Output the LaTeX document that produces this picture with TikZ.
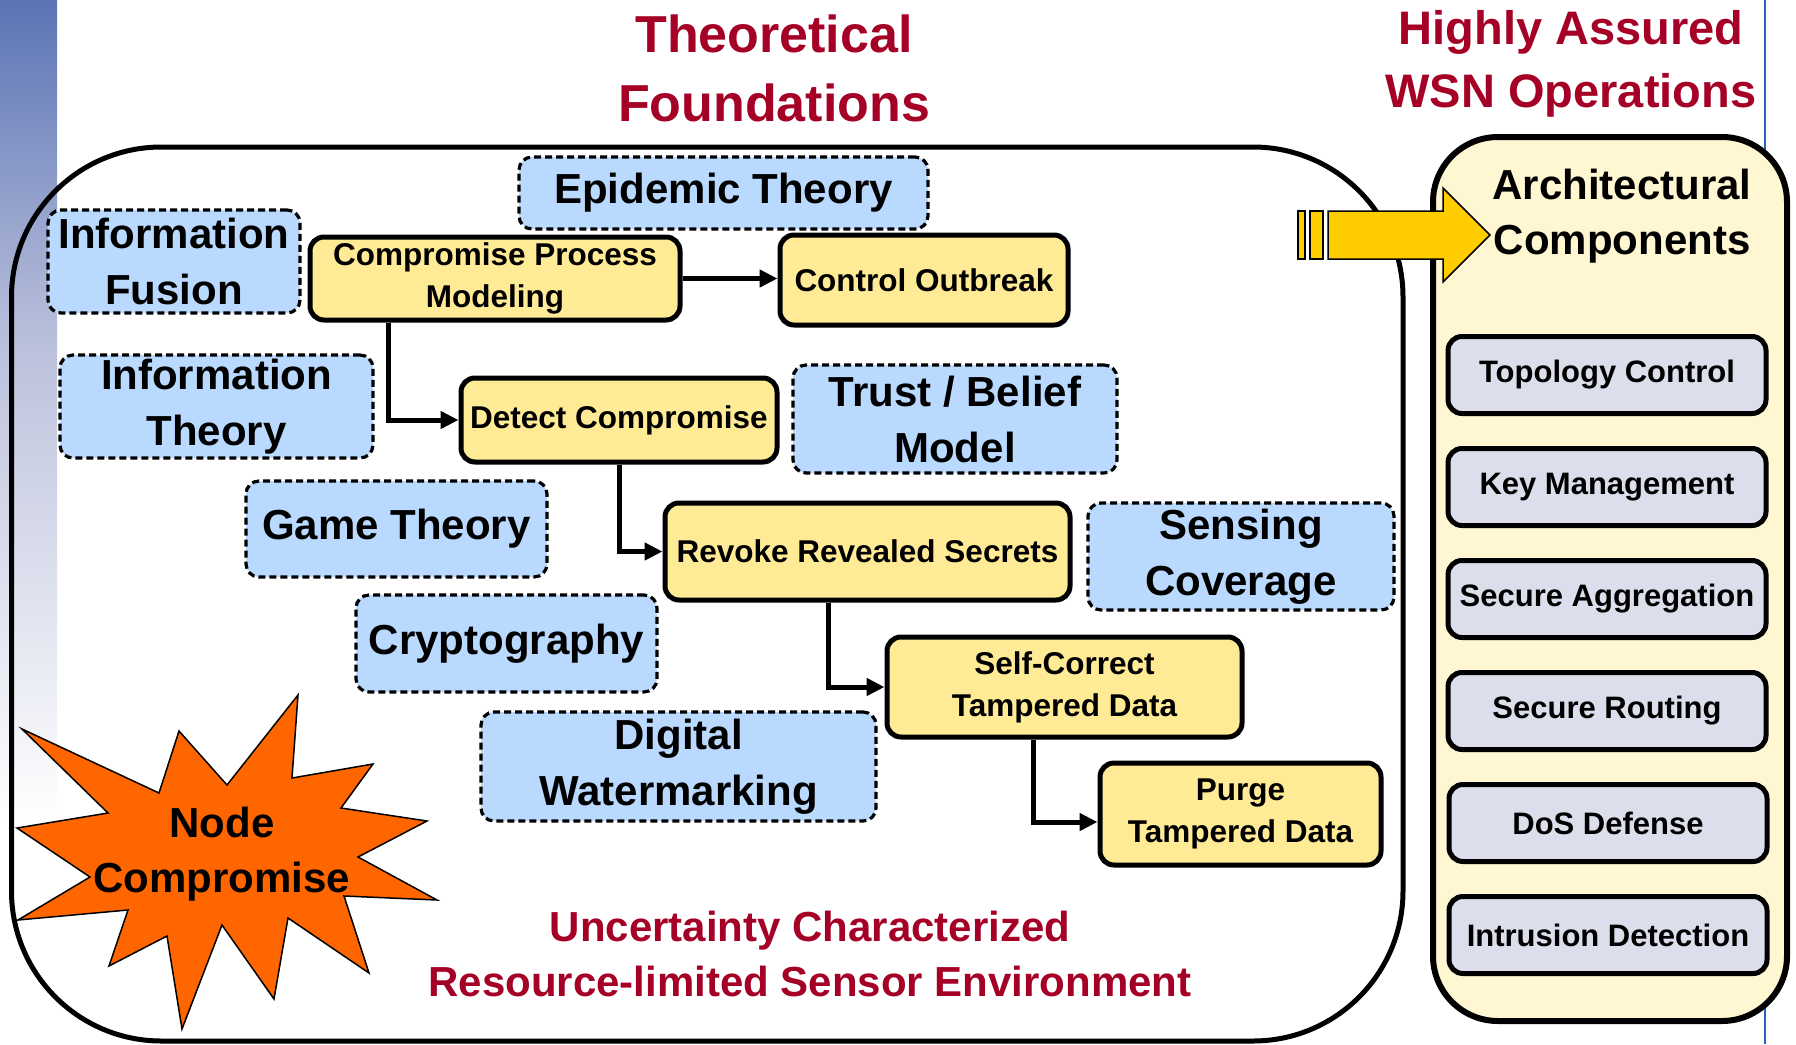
\documentclass[tikz,border=0pt]{standalone}
\usepackage{fontspec}
\setmainfont{Liberation Sans}
\usetikzlibrary{arrows.meta,calc}

\definecolor{titlered}{HTML}{A50026}
\definecolor{theoryblue}{HTML}{B9D9FE}
\definecolor{procyellow}{HTML}{FFEA96}
\definecolor{archcream}{HTML}{FFF6D2}
\definecolor{complav}{HTML}{DCDEEC}
\definecolor{burst}{HTML}{FF6600}
\definecolor{arrowgold}{HTML}{FFCC00}
\definecolor{stripblue}{HTML}{5B74B5}
\definecolor{stripmid}{HTML}{BCC2DC}
\definecolor{ruleblue}{HTML}{2A62C0}

\begin{document}
\begin{tikzpicture}[x=1pt,y=-1pt,
  theory/.style={draw=black, line width=3.2pt, dash pattern=on 7pt off 4pt,
    fill=theoryblue, rounded corners=13pt, align=center, inner sep=0pt,
    font=\fontsize{42}{56}\selectfont\bfseries},
  process/.style={draw=black, line width=5pt, fill=procyellow,
    rounded corners=14pt, align=center, inner sep=0pt,
    font=\fontsize{31.5}{42}\selectfont\bfseries},
  component/.style={draw=black, line width=5pt, fill=complav,
    rounded corners=14pt, inner sep=0pt, minimum width=318pt,
    minimum height=77pt, font=\fontsize{31}{38}\selectfont\bfseries},
  flow/.style={line width=5pt, -{Triangle[length=18pt,width=17pt]}},
  heading/.style={text=titlered, align=center, inner sep=0pt},
]
\useasboundingbox (0,0) rectangle (1796,1044);

% fading strip along the left edge
\shade[top color=stripblue, bottom color=stripmid] (0,0) rectangle (57,350);
\shade[top color=stripmid, bottom color=white] (0,350) rectangle (57,820);

% thin rule on the right
\draw[ruleblue, line width=2pt] (1765,0) -- (1765,1044);

% headings
\node[heading, font=\fontsize{52}{69}\selectfont\bfseries] (theo) at (774,68.5)
  {Theoretical\\Foundations};
\node[heading, font=\fontsize{47}{63}\selectfont\bfseries] (wsn) at (1571,63.5)
  {Highly Assured\\WSN Operations};

% environment frame
\draw[line width=5pt, rounded corners=150pt] (11.5,147) rectangle (1403,1041);

% theoretical foundations
\node[theory, minimum width=252pt, minimum height=103pt] (fusion) at (174,261.5) {Information\\Fusion};
\node[theory, minimum width=313pt, minimum height=103pt] (infoth) at (216.5,406.5) {Information\\Theory};
\node[theory, minimum width=409pt, minimum height=72pt] (epid) at (723.5,193) {Epidemic Theory};
\node[theory, minimum width=324pt, minimum height=108pt] (trust) at (955,419) {Trust / Belief\\Model};
\node[theory, minimum width=301pt, minimum height=96pt] (game) at (396.5,529) {Game Theory};
\node[theory, minimum width=301pt, minimum height=97pt] (crypto) at (506.5,643.5) {Cryptography};
\node[theory, minimum width=306pt, minimum height=107pt] (sensing) at (1241,556.5) {Sensing\\Coverage};
\node[theory, minimum width=395pt, minimum height=109pt] (water) at (678.5,766.5) {Digital\\Watermarking};

% process chain
\node[process, minimum width=370pt, minimum height=83pt] (cpm) at (495,278.5) {Compromise Process\\Modeling};
\node[process, minimum width=288pt, minimum height=90pt] (outbreak) at (924,280) {Control Outbreak};
\node[process, minimum width=316pt, minimum height=84pt] (detect) at (619,420) {Detect Compromise};
\node[process, minimum width=405pt, minimum height=97pt] (revoke) at (867.5,551.5) {Revoke Revealed Secrets};
\node[process, minimum width=355pt, minimum height=100pt] (selfcorr) at (1064.5,687) {Self-Correct\\Tampered Data};
\node[process, minimum width=281pt, minimum height=102pt] (purge) at (1240.5,814) {Purge\\Tampered Data};

\coordinate (drop1) at (388,0);
\coordinate (drop3) at (828,0);
\coordinate (drop4) at (1033,0);

\draw[flow] (cpm.east) -- (cpm.east -| outbreak.west);
\draw[flow] (cpm.south -| drop1) |- (detect.west);
\draw[flow] (detect.south) |- (revoke.west);
\draw[flow] (revoke.south -| drop3) |- (selfcorr.west);
\draw[flow] (selfcorr.south -| drop4) |- ([yshift=-8pt]purge.west);

% node compromise burst
\draw[fill=burst, line width=1.5pt, line join=miter]
  (22,729) -- (159,793) -- (179,731) -- (227,785) -- (298,695) -- (292,778)
  -- (373,764) -- (341,808) -- (427,821) -- (358,857) -- (437,900) -- (344,896)
  -- (369,973) -- (288,918) -- (274,999) -- (222,925) -- (182,1029) -- (167,936)
  -- (109,966) -- (128,910) -- (18,920) -- (90,877) -- (17,828) -- (108,813) -- cycle;
\node[align=center, inner sep=0pt, font=\fontsize{42}{55}\selectfont\bfseries] (ncomp) at (222,854)
  {Node\\Compromise};

% environment caption
\node[heading, font=\fontsize{42}{55}\selectfont\bfseries] (env) at (810,954)
  {Uncertainty Characterized\\Resource-limited Sensor Environment};

% architectural components column
\draw[fill=archcream, line width=6pt, rounded corners=65pt] (1433,137) rectangle (1787,1021);
\node[align=center, inner sep=0pt, font=\fontsize{42}{55}\selectfont\bfseries] (arch) at (1622,216.5)
  {Architectural\\Components};
\node[component] (topo) at (1607,375) {Topology Control};
\node[component] (keym) at (1607,487) {Key Management};
\node[component] (aggr) at (1607,599) {Secure Aggregation};
\node[component] (rout) at (1607,711) {Secure Routing};
\node[component] (dos)  at (1608,823) {DoS Defense};
\node[component] (ids)  at (1608,935) {Intrusion Detection};

% block arrow into the column
\draw[fill=arrowgold, line width=1.5pt] (1298,211) rectangle (1305,259);
\draw[fill=arrowgold, line width=1.5pt] (1310,211) rectangle (1323,259);
\draw[fill=arrowgold, line width=1.5pt, line join=miter]
  (1328,211) -- (1443,211) -- (1443,188) -- (1490,235) -- (1443,282)
  -- (1443,259) -- (1328,259) -- cycle;
\end{tikzpicture}
\end{document}
